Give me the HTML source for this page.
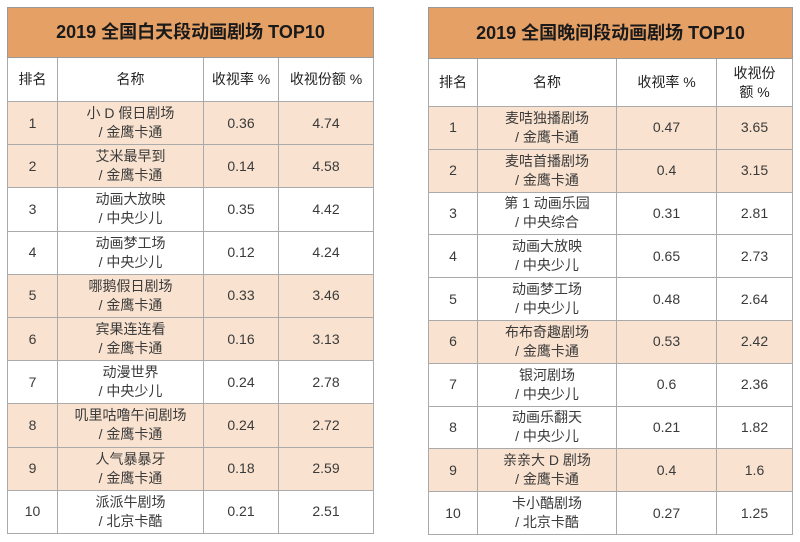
<!DOCTYPE html>
<html><head><meta charset="utf-8"><style>
body{margin:0;width:800px;height:542px;background:#fff;font-family:"Liberation Sans","Noto Sans CJK SC",sans-serif;position:relative;overflow:hidden}
table{position:absolute;border-collapse:collapse;table-layout:fixed;color:#3a3a3a;font-size:14px}
td{border:1px solid #aaa;text-align:center;padding:0;line-height:19px}
td.t{background:#e5a066;font-weight:bold;font-size:18px;color:#1a1a1a;border-color:#999}
tr.h td{background:#fff;color:#222;font-size:14px}
tr.o td{background:#f9e3d0}
</style></head><body>
<table style="left:7px;top:7px;width:366px;height:527px">
<colgroup><col style="width:50px"><col style="width:146px"><col style="width:75px"><col style="width:95px"></colgroup>
<tr style="height:50px"><td class="t" colspan="4">2019 全国白天段动画剧场 TOP10</td></tr>
<tr class="h" style="height:44px"><td>排名</td><td>名称</td><td>收视率 %</td><td>收视份额 %</td></tr>
<tr class="o"><td>1</td><td>小 D 假日剧场<br>/ 金鹰卡通</td><td>0.36</td><td>4.74</td></tr>
<tr class="o"><td>2</td><td>艾米最早到<br>/ 金鹰卡通</td><td>0.14</td><td>4.58</td></tr>
<tr><td>3</td><td>动画大放映<br>/ 中央少儿</td><td>0.35</td><td>4.42</td></tr>
<tr><td>4</td><td>动画梦工场<br>/ 中央少儿</td><td>0.12</td><td>4.24</td></tr>
<tr class="o"><td>5</td><td>哪鹅假日剧场<br>/ 金鹰卡通</td><td>0.33</td><td>3.46</td></tr>
<tr class="o"><td>6</td><td>宾果连连看<br>/ 金鹰卡通</td><td>0.16</td><td>3.13</td></tr>
<tr><td>7</td><td>动漫世界<br>/ 中央少儿</td><td>0.24</td><td>2.78</td></tr>
<tr class="o"><td>8</td><td>叽里咕噜午间剧场<br>/ 金鹰卡通</td><td>0.24</td><td>2.72</td></tr>
<tr class="o"><td>9</td><td>人气暴暴牙<br>/ 金鹰卡通</td><td>0.18</td><td>2.59</td></tr>
<tr><td>10</td><td>派派牛剧场<br>/ 北京卡酷</td><td>0.21</td><td>2.51</td></tr>
</table>
<table style="left:428px;top:7px;width:364px;height:528px">
<colgroup><col style="width:49px"><col style="width:139px"><col style="width:100px"><col style="width:76px"></colgroup>
<tr style="height:51px"><td class="t" colspan="4">2019 全国晚间段动画剧场 TOP10</td></tr>
<tr class="h" style="height:48px"><td>排名</td><td>名称</td><td>收视率 %</td><td>收视份<br>额 %</td></tr>
<tr class="o"><td>1</td><td>麦咭独播剧场<br>/ 金鹰卡通</td><td>0.47</td><td>3.65</td></tr>
<tr class="o"><td>2</td><td>麦咭首播剧场<br>/ 金鹰卡通</td><td>0.4</td><td>3.15</td></tr>
<tr><td>3</td><td>第 1 动画乐园<br>/ 中央综合</td><td>0.31</td><td>2.81</td></tr>
<tr><td>4</td><td>动画大放映<br>/ 中央少儿</td><td>0.65</td><td>2.73</td></tr>
<tr><td>5</td><td>动画梦工场<br>/ 中央少儿</td><td>0.48</td><td>2.64</td></tr>
<tr class="o"><td>6</td><td>布布奇趣剧场<br>/ 金鹰卡通</td><td>0.53</td><td>2.42</td></tr>
<tr><td>7</td><td>银河剧场<br>/ 中央少儿</td><td>0.6</td><td>2.36</td></tr>
<tr><td>8</td><td>动画乐翻天<br>/ 中央少儿</td><td>0.21</td><td>1.82</td></tr>
<tr class="o"><td>9</td><td>亲亲大 D 剧场<br>/ 金鹰卡通</td><td>0.4</td><td>1.6</td></tr>
<tr><td>10</td><td>卡小酷剧场<br>/ 北京卡酷</td><td>0.27</td><td>1.25</td></tr>
</table>
</body></html>
